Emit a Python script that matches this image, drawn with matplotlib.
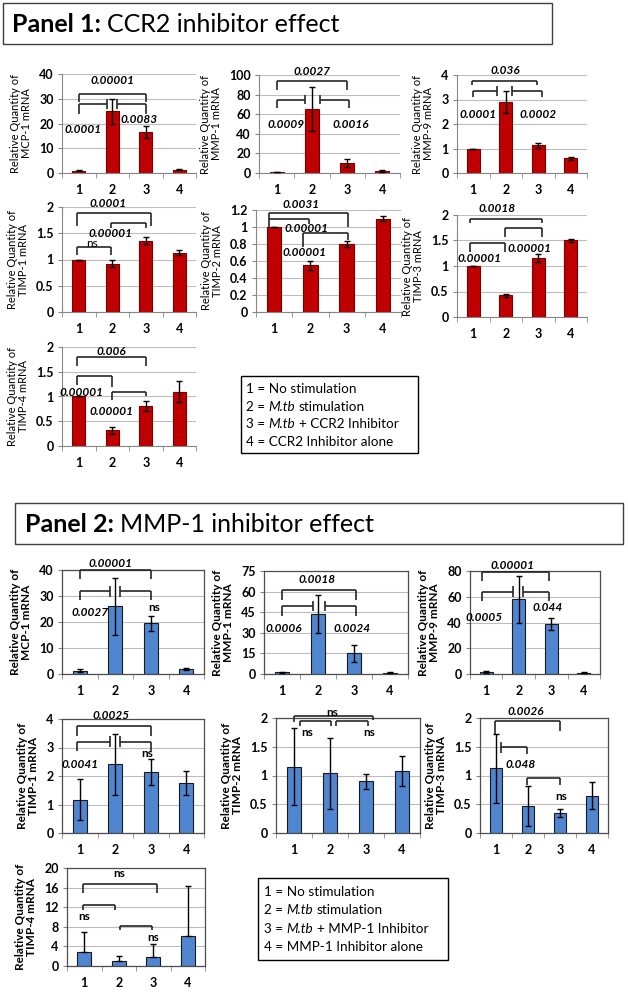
import matplotlib
matplotlib.use("Agg")
import matplotlib.pyplot as plt
from matplotlib.patches import Rectangle
from matplotlib.ticker import FuncFormatter, MultipleLocator, FixedLocator

plt.rcParams['font.family'] = ['Lato', 'DejaVu Sans']

W, H = 628, 993
fig = plt.figure(figsize=(W / 100, H / 100), dpi=100)
renderer = fig.canvas.get_renderer()

groups = [1, 2, 3, 4]

# Panel 1: CCR2 inhibitor (mean, SD)
p1_mcp1 = [1.0, 25.0, 16.5, 1.3]
p1_mcp1_err = [0.1, 5.0, 2.5, 0.2]
p1_mmp1 = [0.8, 65.0, 10.0, 2.5]
p1_mmp1_err = [0.1, 22.5, 4.0, 1.0]
p1_mmp9 = [1.0, 2.9, 1.13, 0.6]
p1_mmp9_err = [0.0, 0.45, 0.1, 0.07]
p1_timp1 = [1.0, 0.92, 1.36, 1.13]
p1_timp1_err = [0.0, 0.07, 0.07, 0.05]
p1_timp2 = [1.0, 0.55, 0.80, 1.10]
p1_timp2_err = [0.0, 0.05, 0.04, 0.03]
p1_timp3 = [1.0, 0.43, 1.15, 1.50]
p1_timp3_err = [0.0, 0.03, 0.08, 0.03]
p1_timp4 = [1.0, 0.32, 0.80, 1.10]
p1_timp4_err = [0.0, 0.07, 0.10, 0.22]

# Panel 2: MMP-1 inhibitor (mean, SD)
p2_mcp1 = [1.2, 26.0, 19.5, 2.0]
p2_mcp1_err = [0.6, 11.0, 2.9, 0.4]
p2_mmp1 = [1.2, 43.5, 15.0, 1.0]
p2_mmp1_err = [0.5, 14.0, 6.0, 0.3]
p2_mmp9 = [1.5, 58.0, 39.0, 1.0]
p2_mmp9_err = [0.7, 18.0, 4.7, 0.3]
p2_timp1 = [1.17, 2.42, 2.15, 1.75]
p2_timp1_err = [0.72, 1.07, 0.45, 0.43]
p2_timp2 = [1.15, 1.04, 0.90, 1.08]
p2_timp2_err = [0.67, 0.62, 0.13, 0.26]
p2_timp3 = [1.13, 0.47, 0.35, 0.65]
p2_timp3_err = [0.60, 0.35, 0.07, 0.24]
p2_timp4 = [2.9, 1.0, 1.8, 6.2]
p2_timp4_err = [4.0, 1.1, 2.6, 10.1]   # only upper bars shown

legend1 = [[("1 = No stimulation", "normal")],
           [("2 =", "normal"), ("M.tb", "italic"), ("stimulation", "normal")],
           [("3 =", "normal"), ("M.tb", "italic"), ("+ CCR2 Inhibitor", "normal")],
           [("4 = CCR2 Inhibitor alone", "normal")]]
legend2 = [[("1 = No stimulation", "normal")],
           [("2 =", "normal"), ("M.tb", "italic"), ("stimulation", "normal")],
           [("3 =", "normal"), ("M.tb", "italic"), ("+ MMP-1 Inhibitor", "normal")],
           [("4 = MMP-1 Inhibitor alone", "normal")]]

# significance brackets: (x1, x2, y, leg1 bottom, leg2 bottom); None -> end cap
br_p1 = {
    'mcp1': [(1, 3, 32, 28.5, 28.5), (1, 1.85, 27.8, 24, None), (2.15, 3, 27.8, None, 24)],
    'mmp1': [(1, 3, 94, 85, 85), (1, 1.81, 75, 66, None), (2.22, 3.05, 75, None, 66)],
    'mmp9': [(0.97, 2.96, 3.77, 3.6, 3.6), (1, 1.72, 3.36, 3.09, None), (2.19, 3.1, 3.36, None, 3.09)],
    'timp1': [(0.95, 3.15, 1.89, 1.63, 1.63), (1.96, 3.0, 1.70, 1.6, 1.6), (0.95, 1.96, 1.23, 1.09, 1.09)],
    'timp2': [(0.86, 3.03, 1.17, 1.0, 1.0), (0.86, 1.95, 1.10, 1.10, 1.04), (1.81, 3.03, 0.925, 0.77, 0.85)],
    'timp3': [(0.89, 3.1, 1.93, 1.84, 1.84), (1.99, 3.1, 1.74, 1.56, 1.56), (0.89, 1.99, 1.46, 1.28, 1.28)],
    'timp4': [(0.95, 3.02, 1.8, 1.62, 1.62), (0.95, 2.0, 1.42, 1.24, 1.2), (2.0, 3.02, 1.1, 0.93, 1.0)],
}
lab_p1 = {
    'mcp1': [(2, 37.5, '0.00001'), (1.12, 17.7, '0.0001'), (2.8, 21.7, '0.0083')],
    'mmp1': [(2, 104, '0.0027'), (1.27, 50, '0.0009'), (3.1, 50, '0.0016')],
    'mmp9': [(2, 4.2, '0.036'), (1.15, 2.4, '0.0001'), (2.99, 2.4, '0.0002')],
    'timp1': [(1.86, 2.07, '0.0001'), (1.95, 1.5, '0.00001'), (1.38, 1.31, 'ns')],
    'timp2': [(1.74, 1.27, '0.0031'), (1.88, 0.98, '0.00001'), (1.83, 0.70, '0.00001')],
    'timp3': [(1.72, 2.13, '0.0018'), (1.19, 1.15, '0.00001'), (2.73, 1.34, '0.00001')],
    'timp4': [(1.98, 1.9, '0.006'), (1.08, 1.09, '0.00001'), (1.98, 0.70, '0.00001')],
}
br_p2 = {
    'mcp1': [(1, 3, 40, 36.5, 36.5), (1, 1.86, 31.8, 28.3, None), (2.14, 3, 31.8, None, 28.3)],
    'mmp1': [(1, 3.05, 61, 53.8, 53.8), (1, 1.86, 49.3, 42.5, None), (2.19, 3.05, 49.3, None, 42.5)],
    'mmp9': [(0.86, 2.93, 79.5, 72.4, 72.4), (0.86, 1.83, 64, 57, None), (2.13, 2.93, 64, None, 57)],
    'timp1': [(0.92, 3.02, 3.74, 3.42, 3.42), (0.92, 1.85, 3.21, 2.88, None), (2.14, 3.02, 3.21, None, 2.88)],
    'timp2': [(1.0, 3.2, 2.03, 1.93, 1.96), (1.17, 2.04, 1.94, 1.86, 1.86), (2.17, 3.06, 1.94, 1.86, 1.86)],
    'timp3': [(0.96, 2.99, 1.94, 1.73, 1.77), (1.17, 1.98, 1.49, None, 1.38), (1.98, 2.99, 0.95, 0.83, 0.83)],
    'timp4': [(0.97, 3.11, 16.8, 14.8, 14.8), (0.97, 1.88, 12.4, 11.5, 11.5), (2.05, 2.96, 8.2, 7.3, 7.3)],
}
lab_p2 = {
    'mcp1': [(1.86, 42.6, '0.00001'), (1.29, 23.8, '0.0027'), (3.1, 25.7, 'ns')],
    'mmp1': [(1.98, 68.8, '0.0018'), (1.05, 33, '0.0006'), (2.95, 33, '0.0024')],
    'mmp9': [(1.8, 84, '0.00001'), (0.94, 43.5, '0.0005'), (2.9, 51.6, '0.044')],
    'timp1': [(1.89, 4.13, '0.0025'), (1.0, 2.42, '0.0041'), (2.9, 2.8, 'ns')],
    'timp2': [(2.07, 2.1, 'ns'), (1.36, 1.75, 'ns'), (3.08, 1.75, 'ns')],
    'timp3': [(1.94, 2.11, '0.0026'), (1.76, 1.2, '0.048'), (3.03, 0.64, 'ns')],
    'timp4': [(2.02, 18.8, 'ns'), (1.0, 10.1, 'ns'), (3.0, 5.9, 'ns')],
}

RED, RED_EDGE = '#C00000', '#7A0000'
BLUE, BLUE_EDGE = '#4F86CF', '#1A1A1A'


def bar_chart(box, vals, errs, ymax, step, name, panel2, brackets, labels, upper_only=False):
    l, r, t, b = box
    ax = fig.add_axes([l / W, 1 - b / H, (r - l) / W, (b - t) / H])
    ax.set_xlim(0.5, 4.5)
    ax.set_ylim(0, ymax)
    ax.yaxis.set_major_locator(MultipleLocator(step))
    ax.yaxis.set_major_formatter(FuncFormatter(lambda v, p: f'{v:g}'))
    ax.set_xticks(groups)
    ax.xaxis.set_minor_locator(FixedLocator([0.5, 1.5, 2.5, 3.5, 4.5]))
    ax.grid(axis='y', color='#BDBDBD', lw=0.8)
    ax.set_axisbelow(True)
    color, edge = (BLUE, BLUE_EDGE) if panel2 else (RED, RED_EDGE)
    ax.bar(groups, vals, width=0.4, color=color, edgecolor=edge, lw=0.8, zorder=2)
    yerr = [[0] * 4, errs] if upper_only else errs
    ax.errorbar(groups, vals, yerr=yerr, fmt='none', ecolor='black',
                elinewidth=1, capsize=2, capthick=1, zorder=3)

    if panel2:
        for s in ax.spines.values():
            s.set_color('#4D4D4D')
            s.set_linewidth(0.9)
    else:
        ax.spines['top'].set_visible(False)
        ax.spines['right'].set_visible(False)
        for s in ('left', 'bottom'):
            ax.spines[s].set_color('#868686')
    ax.tick_params(axis='x', which='major', length=0, pad=8, labelsize=9)
    ax.tick_params(axis='x', which='minor', length=3.5, color='#868686')
    ax.tick_params(axis='y', length=3, color='#868686', pad=3, labelsize=9)
    for lab in ax.get_xticklabels() + ax.get_yticklabels():
        lab.set_fontweight('bold')
    ax.set_ylabel(f"Relative Quantity of\n{name} mRNA", fontsize=8.5 if panel2 else 8,
                  fontweight='bold' if panel2 else 'normal', linespacing=1.05, labelpad=5)

    cap = 0.05 * ymax
    for x1, x2, y, lo1, lo2 in brackets:
        kw = dict(color='#262626', lw=1.2, clip_on=False, solid_capstyle='butt', zorder=4)
        ax.plot([x1, x2], [y, y], **kw)
        for x, lo in ((x1, lo1), (x2, lo2)):
            if lo is None:
                ax.plot([x, x], [y - cap, y + cap], **kw)
            else:
                ax.plot([x, x], [lo, y], **kw)
    for x, y, s in labels:
        ns = s == 'ns'
        ax.text(x, y, s, ha='center', va='center', fontsize=8.5, clip_on=False, zorder=5,
                fontweight='bold' if (panel2 or not ns) else 'normal',
                style='normal' if ns else 'italic')
    return ax


def rich_line(x_px, y_px, parts, size, weight='normal'):
    x = x_px
    space = 0.26 * size * 100 / 72
    for s, style in parts:
        t = fig.text(x / W, 1 - y_px / H, s, fontsize=size, style=style,
                     fontweight=weight, ha='left', va='center')
        x = t.get_window_extent(renderer).x1 + space


def fig_box(l, r, t, b, color='black', lw=1.0):
    fig.add_artist(Rectangle((l / W, 1 - b / H), (r - l) / W, (b - t) / H,
                             transform=fig.transFigure, fill=False, edgecolor=color, lw=lw))


# panel titles
fig_box(3, 552, 3, 44, color='#404040')
t = fig.text(12 / W, 1 - 24 / H, "Panel 1:", fontsize=18, fontweight='bold', va='center')
fig.text((t.get_window_extent(renderer).x1 + 6) / W, 1 - 24 / H, "CCR2 inhibitor effect",
         fontsize=18, va='center')
fig_box(15, 623, 503, 544, color='#404040')
t = fig.text(25 / W, 1 - 524 / H, "Panel 2:", fontsize=18, fontweight='bold', va='center')
fig.text((t.get_window_extent(renderer).x1 + 6) / W, 1 - 524 / H, "MMP-1 inhibitor effect",
         fontsize=18, va='center')

# panel 1 charts
bar_chart((62, 196, 74, 173), p1_mcp1, p1_mcp1_err, 40, 10, 'MCP-1', False, br_p1['mcp1'], lab_p1['mcp1'])
bar_chart((259, 400, 75, 173), p1_mmp1, p1_mmp1_err, 100, 20, 'MMP-1', False, br_p1['mmp1'], lab_p1['mmp1'])
bar_chart((457, 587, 75, 173), p1_mmp9, p1_mmp9_err, 4, 1, 'MMP-9', False, br_p1['mmp9'], lab_p1['mmp9'])
bar_chart((62, 196, 207, 312), p1_timp1, p1_timp1_err, 2, 0.5, 'TIMP-1', False, br_p1['timp1'], lab_p1['timp1'])
bar_chart((256, 401, 210, 312), p1_timp2, p1_timp2_err, 1.2, 0.2, 'TIMP-2', False, br_p1['timp2'], lab_p1['timp2'])
bar_chart((457, 587, 215, 317), p1_timp3, p1_timp3_err, 2, 0.5, 'TIMP-3', False, br_p1['timp3'], lab_p1['timp3'])
bar_chart((62, 196, 347, 446), p1_timp4, p1_timp4_err, 2, 0.5, 'TIMP-4', False, br_p1['timp4'], lab_p1['timp4'])

# panel 2 charts
bar_chart((62, 204, 570, 674), p2_mcp1, p2_mcp1_err, 40, 10, 'MCP-1', True, br_p2['mcp1'], lab_p2['mcp1'])
bar_chart((264, 408, 571, 674), p2_mmp1, p2_mmp1_err, 75, 15, 'MMP-1', True, br_p2['mmp1'], lab_p2['mmp1'])
bar_chart((470, 600, 571, 674), p2_mmp9, p2_mmp9_err, 80, 20, 'MMP-9', True, br_p2['mmp9'], lab_p2['mmp9'])
bar_chart((62, 204, 719, 833), p2_timp1, p2_timp1_err, 4, 1, 'TIMP-1', True, br_p2['timp1'], lab_p2['timp1'])
bar_chart((276, 420, 718, 833), p2_timp2, p2_timp2_err, 2, 0.5, 'TIMP-2', True, br_p2['timp2'], lab_p2['timp2'])
bar_chart((480, 608, 718, 833), p2_timp3, p2_timp3_err, 2, 0.5, 'TIMP-3', True, br_p2['timp3'], lab_p2['timp3'])
bar_chart((67, 205, 868, 966), p2_timp4, p2_timp4_err, 20, 4, 'TIMP-4', True, br_p2['timp4'], lab_p2['timp4'],
          upper_only=True)

# legends
fig_box(241, 418, 376, 453)
for i, parts in enumerate(legend1):
    rich_line(246, 389 + i * 17.7, parts, 9.7)
fig_box(258, 448, 878, 960)
for i, parts in enumerate(legend2):
    rich_line(264, 892 + i * 18.3, parts, 9.7)

fig.savefig("out.png", dpi=100)
